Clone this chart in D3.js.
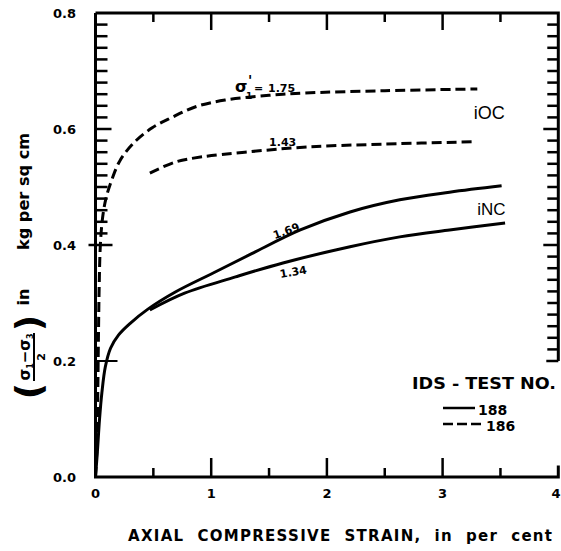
<!DOCTYPE html>
<html lang="en">
<head>
    <meta charset="UTF-8">
    <title>Axial strain vs deviator stress</title>
    <script src="https://d3js.org/d3.v7.min.js"></script>
    <style>
        body { margin: 0; background: #fff; }
        svg { font-family: "DejaVu Sans", sans-serif; }
        .tick-label { font-size: 13px; font-weight: bold; }
        .curve { fill: none; stroke: #000; stroke-width: 3px; }
        .dashed { stroke-dasharray: 10,5; }
        .frame { stroke: #000; stroke-width: 3px; fill: none; }
    </style>
</head>
<body>
    <svg width="561" height="551"></svg>
    <script>
        // values (strain in %, stress in kg/sq cm)
        const x188a = [0, 0.015, 0.035, 0.055, 0.085, 0.13, 0.2, 0.3, 0.45, 0.69, 1.03, 1.35, 1.77, 2.2, 2.63, 3.06, 3.51];
        const y188a = [0, 0.04, 0.1, 0.145, 0.19, 0.222, 0.245, 0.265, 0.289, 0.319, 0.353, 0.385, 0.426, 0.457, 0.478, 0.491, 0.502];
        const x188b = [0.47, 0.77, 1.21, 1.62, 2.2, 2.63, 3.06, 3.54];
        const y188b = [0.288, 0.317, 0.345, 0.369, 0.397, 0.414, 0.426, 0.438];
        const x186a = [0, 0.012, 0.02, 0.026, 0.032, 0.042, 0.06, 0.09, 0.14, 0.21, 0.33, 0.49, 0.66, 0.86, 1.12, 1.5, 1.8, 2.5, 3.3];
        const y186a = [0, 0.05, 0.15, 0.25, 0.33, 0.4, 0.445, 0.48, 0.512, 0.545, 0.576, 0.602, 0.62, 0.638, 0.65, 0.658, 0.662, 0.666, 0.669];
        const x186b = [0.47, 0.69, 0.92, 1.29, 1.83, 2.5, 3.26];
        const y186b = [0.524, 0.543, 0.552, 0.56, 0.569, 0.574, 0.578];

        const xTicks = [0, 1, 2, 3, 4];
        const yTicks = [0, 0.2, 0.4, 0.6, 0.8];

        const svg = d3.select('svg');
        const mLeft = 95.5, mTop = 13, w = 462.8, h = 464;

        const x = d3.scaleLinear().domain([0, 4]).range([mLeft, mLeft + w]);
        const y = d3.scaleLinear().domain([0, 0.8]).range([mTop + h, mTop]);

        const zip = (xs, ys) => xs.map((v, i) => [v, ys[i]]);
        const line = d3.line().x(d => x(d[0])).y(d => y(d[1])).curve(d3.curveCatmullRom.alpha(0.5));

        // frame: left, bottom, top, right (right side broken by legend)
        svg.append('path').attr('class', 'frame')
            .attr('d', `M${x(0)},${y(0.8)}V${y(0)}H${x(4)}V${y(0.02)}`);
        svg.append('path').attr('class', 'frame')
            .attr('d', `M${x(0)},${y(0.8)}H${x(4)}V${y(0.2)}`);

        // ticks on top and bottom
        const halfSteps = d3.range(0.5, 4, 0.5);
        svg.append('g').selectAll('line').data(halfSteps).join('line')
            .attr('x1', d => x(d)).attr('x2', d => x(d))
            .attr('y1', y(0.8)).attr('y2', d => y(0.8) + (d % 1 === 0 ? 17 : 9))
            .attr('stroke', '#000').attr('stroke-width', 2.5);
        svg.append('g').selectAll('line').data(halfSteps).join('line')
            .attr('x1', d => x(d)).attr('x2', d => x(d))
            .attr('y1', y(0)).attr('y2', d => y(0) - (d % 1 === 0 ? 19 : 9))
            .attr('stroke', '#000').attr('stroke-width', 2.5);

        // ticks on left and right
        const leftMinor = d3.range(21, 40).map(i => i / 50);
        svg.append('g').selectAll('line').data(leftMinor).join('line')
            .attr('x1', x(0)).attr('x2', d => x(0) + (Math.abs(d - 0.6) < 1e-6 ? 16 : 12))
            .attr('y1', d => y(d)).attr('y2', d => y(d))
            .attr('stroke', '#000').attr('stroke-width', 2.5);
        const rightMinor = d3.range(11, 40).map(i => i / 50);
        svg.append('g').selectAll('line').data(rightMinor).join('line')
            .attr('x1', x(4)).attr('x2', d => x(4) - ([0.4, 0.6].some(v => Math.abs(d - v) < 1e-6) ? 15 : 11))
            .attr('y1', d => y(d)).attr('y2', d => y(d))
            .attr('stroke', '#000').attr('stroke-width', 2.5);
        // major marks at 0.2 and 0.4
        svg.append('line').attr('x1', x(0) - 7).attr('x2', x(0) + 17)
            .attr('y1', y(0.4)).attr('y2', y(0.4)).attr('stroke', '#000').attr('stroke-width', 2.5);
        svg.append('line').attr('x1', x(0)).attr('x2', x(0) + 22)
            .attr('y1', y(0.2)).attr('y2', y(0.2)).attr('stroke', '#000').attr('stroke-width', 2);
        svg.append('line').attr('x1', x(4)).attr('x2', x(4) - 12)
            .attr('y1', y(0.2)).attr('y2', y(0.2)).attr('stroke', '#000').attr('stroke-width', 2.5);

        // tick labels
        svg.append('g').selectAll('text').data(yTicks).join('text')
            .attr('class', 'tick-label')
            .attr('x', 76).attr('y', d => y(d) + 5)
            .attr('text-anchor', 'end')
            .text(d => d.toFixed(1));
        svg.append('g').selectAll('text').data(xTicks).join('text')
            .attr('class', 'tick-label')
            .attr('x', d => Math.min(x(d), 556)).attr('y', 498)
            .attr('text-anchor', 'middle')
            .text(d => d);

        // curves
        svg.append('path').attr('class', 'curve').attr('d', line(zip(x188a, y188a)));
        svg.append('path').attr('class', 'curve').attr('d', line(zip(x188b, y188b)));
        svg.append('path').attr('class', 'curve dashed').attr('d', line(zip(x186a, y186a)));
        svg.append('path').attr('class', 'curve dashed').attr('d', line(zip(x186b, y186b)));

        // curve labels
        const lab = svg.append('g').attr('font-weight', 'bold').attr('font-size', 11);
        lab.append('text').attr('x', 235).attr('y', 92).attr('font-size', 16).text('σ');
        lab.append('text').attr('x', 246).attr('y', 99).attr('font-size', 9).text('1');
        lab.append('text').attr('x', 248).attr('y', 85).attr('font-size', 14).text('\'');
        lab.append('text').attr('x', 254).attr('y', 92).text('=');
        lab.append('text').attr('x', 268).attr('y', 92).text('1.75');
        lab.append('text').attr('x', x(1.5)).attr('y', y(0.571)).text('1.43');
        lab.append('text').attr('transform', `translate(${x(1.55)},${y(0.41)}) rotate(-20)`).text('1.69');
        lab.append('text').attr('transform', `translate(${x(1.6)},${y(0.343)}) rotate(-10)`).text('1.34');

        svg.append('text').attr('x', x(3.27)).attr('y', y(0.617)).attr('font-size', 18)
            .attr('font-family', 'Liberation Sans, sans-serif').text('iOC');
        svg.append('text').attr('x', x(3.3)).attr('y', y(0.452)).attr('font-size', 17)
            .attr('font-family', 'Liberation Sans, sans-serif').text('iNC');

        // legend
        const legend = svg.append('g').attr('font-weight', 'bold');
        legend.append('text').attr('x', 412).attr('y', 389).attr('font-size', 16)
            .attr('textLength', 144).attr('lengthAdjust', 'spacingAndGlyphs').text('IDS - TEST  NO.');
        legend.append('line').attr('x1', 443).attr('x2', 475).attr('y1', 408).attr('y2', 408)
            .attr('stroke', '#000').attr('stroke-width', 2.5);
        legend.append('line').attr('x1', 443).attr('x2', 485).attr('y1', 424).attr('y2', 424)
            .attr('stroke', '#000').attr('stroke-width', 2.5).attr('stroke-dasharray', '10,4');
        legend.append('text').attr('x', 478).attr('y', 415).attr('font-size', 14).text('188');
        legend.append('text').attr('x', 486).attr('y', 431).attr('font-size', 14).text('186');

        // x axis title
        svg.append('text').attr('x', 128).attr('y', 541)
            .attr('font-size', 15).attr('font-weight', 'bold')
            .attr('textLength', 424).attr('lengthAdjust', 'spacing')
            .attr('xml:space', 'preserve')
            .text('AXIAL  COMPRESSIVE  STRAIN,  in  per  cent');

        // y axis title (rotated)
        const yt = svg.append('g').attr('transform', 'rotate(-90)')
            .attr('font-weight', 'bold');
        yt.append('text').attr('x', -250).attr('y', 29).attr('font-size', 16)
            .attr('textLength', 117).attr('lengthAdjust', 'spacingAndGlyphs').text('kg per sq cm');
        yt.append('text').attr('x', -297).attr('y', 29).attr('font-size', 16)
            .attr('text-anchor', 'middle').text('in');
        const num = yt.append('text').attr('x', -357).attr('y', 30).attr('font-size', 15)
            .attr('text-anchor', 'middle');
        num.append('tspan').text('σ');
        num.append('tspan').attr('font-size', 8).attr('dy', 3).text('1');
        num.append('tspan').attr('dy', -3).text('−σ');
        num.append('tspan').attr('font-size', 8).attr('dy', 3).text('3');
        yt.append('line').attr('x1', -381).attr('x2', -333).attr('y1', 34).attr('y2', 34)
            .attr('stroke', '#000').attr('stroke-width', 2);
        yt.append('text').attr('x', -357).attr('y', 45).attr('font-size', 11)
            .attr('text-anchor', 'middle').text('2');
        yt.append('text').attr('x', -391).attr('y', 41).attr('font-size', 36)
            .attr('text-anchor', 'middle').text('(');
        yt.append('text').attr('x', -323).attr('y', 41).attr('font-size', 36)
            .attr('text-anchor', 'middle').text(')');
    </script>
</body>
</html>
